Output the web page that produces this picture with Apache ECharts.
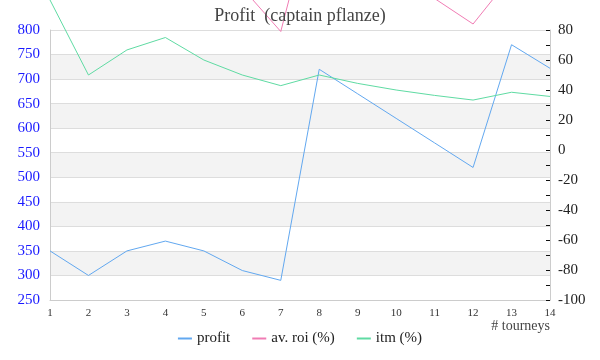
<!DOCTYPE html>
<html><head><meta charset="utf-8">
<script src="https://cdn.jsdelivr.net/npm/echarts@6/dist/echarts.min.js"></script>
<style>html,body{margin:0;padding:0;background:#fff}#c{width:600px;height:360px}</style>
</head><body><div id="c"></div>
<script>
const categories = ['1','2','3','4','5','6','7','8','9','10','11','12','13','14'];
const profit = [350, 300, 350, 370, 350, 310, 290, 720, 670, 620, 570, 520, 770, 722];
const avRoi = [700, 300, 233, 185, 140, 108, 79, 178, 149, 124, 101, 84, 116, 103];
const itm = [100, 50, 66.7, 75, 60, 50, 42.9, 50, 44.4, 40, 36.4, 33.3, 38.5, 35.7];
const leftTicks = {min: 250, max: 800, interval: 50};
const rightTicks = {min: -100, max: 80, interval: 20};

const font = 'Liberation Serif';
const chart = echarts.init(document.getElementById('c'));
chart.setOption({
  animation: false,
  textStyle: {fontFamily: font},
  title: {
    text: 'Profit  (captain pflanze)', left: 'center', top: 2,
    textStyle: {fontFamily: font, fontSize: 18, fontWeight: 'normal', color: '#444'}
  },
  color: ['#62a8f0', '#f07cb4', '#5fdba3'],
  legend: {
    bottom: 9, left: 'center', itemWidth: 14, itemHeight: 2, itemGap: 22,
    icon: 'rect',
    textStyle: {fontFamily: font, fontSize: 15, color: '#222'},
    data: ['profit', 'av. roi (%)', 'itm (%)']
  },
  grid: {left: 50, right: 50, top: 30, bottom: 60},
  xAxis: {
    type: 'category', data: categories, boundaryGap: false,
    name: '# tourneys', nameLocation: 'end', nameGap: 0,
    nameTextStyle: {fontFamily: font, fontSize: 14, color: '#444', align: 'right', verticalAlign: 'top', padding: [19, 0, 0, 0]},
    axisLine: {onZero: false, lineStyle: {color: '#ccc'}},
    axisTick: {show: false},
    axisLabel: {fontFamily: font, fontSize: 11, color: '#333', margin: 8}
  },
  yAxis: [{
    type: 'value', min: leftTicks.min, max: leftTicks.max, interval: leftTicks.interval,
    axisLine: {show: true, lineStyle: {color: '#ccc'}},
    axisTick: {show: false},
    axisLabel: {fontFamily: font, fontSize: 15, color: '#1a1aff', margin: 10},
    splitLine: {show: true, lineStyle: {color: '#ddd'}},
    splitArea: {show: true, areaStyle: {color: ['#ffffff', '#f3f3f3']}}
  }, {
    type: 'value', min: rightTicks.min, max: rightTicks.max, interval: rightTicks.interval,
    position: 'right',
    axisLine: {show: true, lineStyle: {color: '#ccc'}},
    axisTick: {show: true, inside: true, length: 4, lineStyle: {color: '#111'}},
    minorTick: {show: true, splitNumber: 2, length: 4, lineStyle: {color: '#111'}},
    axisLabel: {fontFamily: font, fontSize: 15, color: '#222', margin: 8},
    splitLine: {show: false}
  }],
  series: [
    {name: 'profit', type: 'line', yAxisIndex: 0, data: profit, showSymbol: false, clip: false, lineStyle: {width: 1}},
    {name: 'av. roi (%)', type: 'line', yAxisIndex: 1, data: avRoi, showSymbol: false, clip: false, lineStyle: {width: 1}},
    {name: 'itm (%)', type: 'line', yAxisIndex: 1, data: itm, showSymbol: false, clip: false, lineStyle: {width: 1}}
  ]
});
</script></body></html>
